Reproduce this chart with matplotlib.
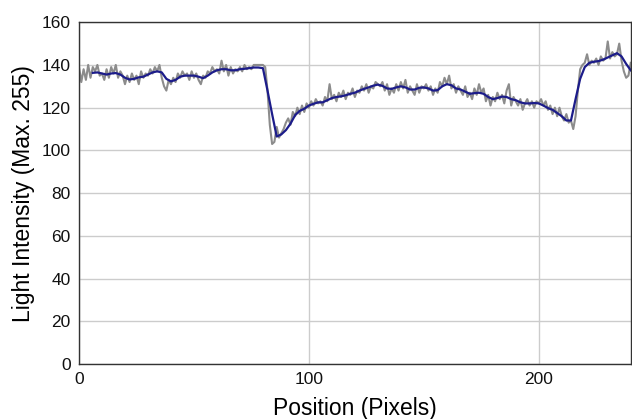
import numpy as np
import matplotlib
matplotlib.use("Agg")
import matplotlib.pyplot as plt

plt.rcParams["font.family"] = ["Liberation Sans", "DejaVu Sans"]

# Raw intensity profile, one value per pixel position (0..240)
raw_x = list(range(0, 241))
raw_y = [
    139, 132, 138, 133, 140, 134, 139, 137, 140, 135,
    136, 133, 138, 134, 139, 136, 140, 134, 137, 135,
    131, 135, 132, 136, 133, 135, 131, 137, 134, 136,
    135, 138, 136, 139, 137, 140, 134, 130, 128, 133,
    131, 134, 132, 136, 134, 137, 135, 136, 133, 137,
    134, 136, 133, 131, 135, 134, 137, 136, 139, 137,
    138, 136, 142, 137, 140, 135, 139, 136, 138, 137,
    139, 137, 140, 138, 139, 138, 140, 140, 140, 140,
    140, 139, 128, 112, 103, 104, 111, 106, 108, 110,
    113, 115, 112, 118, 116, 120, 117, 121, 118, 122,
    120, 123, 121, 124, 122, 123, 121, 125, 123, 131,
    124, 126, 123, 127, 125, 128, 124, 127, 126, 129,
    125, 128, 127, 130, 128, 131, 127, 130, 129, 132,
    131, 130, 132, 128, 131, 126, 129, 127, 131, 128,
    132, 129, 133, 127, 130, 128, 126, 131, 127, 130,
    129, 131, 128, 130, 126, 129, 127, 132, 130, 134,
    131, 135, 129, 131, 127, 130, 128, 126, 130, 125,
    127, 124, 129, 126, 131, 127, 129, 123, 126, 121,
    125, 123, 127, 124, 126, 122, 128, 131, 121, 125,
    123, 121, 124, 119, 122, 124, 121, 123, 120, 123,
    122, 124, 121, 123, 119, 121, 117, 120, 116, 120,
    116, 114, 117, 113, 114, 110, 116, 128, 138, 140,
    141, 145, 140, 142, 141, 143, 140, 144, 142, 143,
    151, 143, 146, 144, 145, 150, 142, 137, 134, 135,
    141,
]

# Smoothed profile (moving average trend)
smooth_x = list(range(6, 241, 2))
smooth_y = [
    136.3, 136.5, 136.0, 135.5, 136.0, 136.2, 135.5, 134.0, 133.2, 133.5,
    134.2, 134.5, 135.5, 136.5, 137.0, 136.5, 133.5, 132.3, 133.0, 134.5,
    135.0, 135.0, 135.0, 134.5, 133.8, 135.0, 136.5, 137.5, 138.0, 138.0,
    137.5, 137.5, 138.0, 138.2, 138.5, 138.8, 138.8, 138.5, 128.0, 117.0,
    106.5, 107.5, 109.5, 112.5, 116.5, 118.5, 119.5, 121.0, 121.8, 122.5,
    122.5, 123.5, 124.5, 125.0, 125.3, 125.8, 126.5, 127.0, 128.0, 128.8,
    129.5, 130.3, 130.8, 130.2, 129.0, 128.8, 129.5, 130.0, 129.5, 128.5,
    128.5, 129.3, 129.5, 129.0, 128.0, 128.2, 130.0, 131.0, 130.5, 129.0,
    128.5, 127.5, 126.5, 126.8, 127.0, 126.5, 125.0, 124.0, 124.5, 125.2,
    125.0, 124.0, 123.5, 122.5, 122.0, 122.0, 122.2, 122.0, 121.0, 119.8,
    119.0, 117.5, 116.0, 114.0, 114.0, 124.0, 133.5, 139.0, 141.0, 141.5,
    141.8, 142.5, 143.5, 144.5, 145.5, 144.0, 140.5, 137.5,
]

fig = plt.figure(figsize=(6.32, 4.19), dpi=100)
ax = fig.add_axes([0.125, 0.131, 0.873, 0.816])

ax.plot(raw_x, raw_y, color="#8c8c8c", lw=1.5)
ax.plot(smooth_x, smooth_y, color="#1c1c8a", lw=1.6)

ax.set_xlim(0, 240)
ax.set_ylim(0, 160)
ax.set_xticks([0, 100, 200])
ax.set_yticks(range(0, 161, 20))
ax.tick_params(length=0, labelsize=12.5, pad=6, colors="#111111")
ax.grid(True, color="#cccccc", lw=1)
ax.set_axisbelow(True)
for s in ax.spines.values():
    s.set_color("#333333")
    s.set_linewidth(1)

ax.set_xlabel("Position (Pixels)", fontsize=16.5, labelpad=7)
ax.set_ylabel("Light Intensity (Max. 255)", fontsize=16.5, labelpad=5)

fig.savefig("out.png", dpi=100)
